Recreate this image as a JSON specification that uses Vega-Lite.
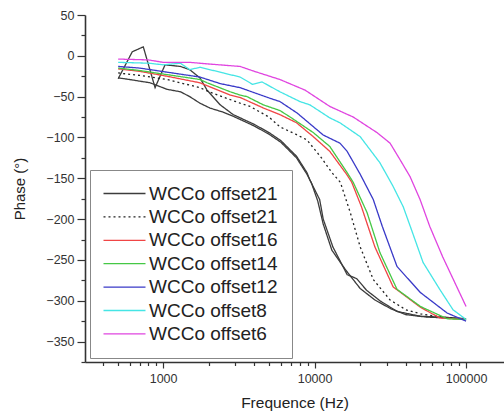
{
  "$schema": "https://vega.github.io/schema/vega-lite/v6.json",
  "width": 419,
  "height": 347,
  "autosize": "none",
  "padding": {"left": 85, "top": 15, "right": 0, "bottom": 52},
  "background": "white",
  "config": {
    "view": {"stroke": null},
    "font": "Liberation Sans",
    "axis": {"grid": false, "domainColor": "#333", "tickColor": "#333", "labelColor": "#333", "titleColor": "#222", "domainWidth": 1.6, "tickWidth": 1.2, "labelFont": "Liberation Sans", "titleFont": "Liberation Sans", "titleFontWeight": "normal"}
  },
  "datasets": {
    "curves": [
      {"s":"21a","f":505,"p":-28},{"s":"21a","f":626,"p":5},{"s":"21a","f":740,"p":11},{"s":"21a","f":885,"p":-39},{"s":"21a","f":1030,"p":-11},{"s":"21a","f":1300,"p":-13},{"s":"21a","f":1500,"p":-17},{"s":"21a","f":1750,"p":-27},{"s":"21a","f":1950,"p":-42},{"s":"21a","f":2380,"p":-60},{"s":"21a","f":2900,"p":-72},{"s":"21a","f":4000,"p":-84},{"s":"21a","f":5000,"p":-94},{"s":"21a","f":6000,"p":-104},{"s":"21a","f":7600,"p":-123},{"s":"21a","f":8900,"p":-143},{"s":"21a","f":9300,"p":-152},{"s":"21a","f":10800,"p":-176},{"s":"21a","f":11400,"p":-200},{"s":"21a","f":13200,"p":-234},{"s":"21a","f":16400,"p":-268},{"s":"21a","f":19000,"p":-273},{"s":"21a","f":22000,"p":-287},{"s":"21a","f":27000,"p":-300},{"s":"21a","f":35000,"p":-313},{"s":"21a","f":50000,"p":-319},{"s":"21a","f":70000,"p":-320},{"s":"21a","f":100000,"p":-322},
      {"s":"21c","f":505,"p":-27},{"s":"21c","f":600,"p":-29},{"s":"21c","f":700,"p":-31},{"s":"21c","f":820,"p":-33},{"s":"21c","f":1060,"p":-41},{"s":"21c","f":1300,"p":-44},{"s":"21c","f":1500,"p":-50},{"s":"21c","f":1750,"p":-58},{"s":"21c","f":2040,"p":-64},{"s":"21c","f":2490,"p":-69},{"s":"21c","f":2900,"p":-74},{"s":"21c","f":4000,"p":-86},{"s":"21c","f":5000,"p":-96},{"s":"21c","f":6000,"p":-106},{"s":"21c","f":7600,"p":-125},{"s":"21c","f":8900,"p":-145},{"s":"21c","f":9500,"p":-155},{"s":"21c","f":10500,"p":-178},{"s":"21c","f":11400,"p":-206},{"s":"21c","f":13000,"p":-238},{"s":"21c","f":16000,"p":-262},{"s":"21c","f":20000,"p":-285},{"s":"21c","f":25000,"p":-299},{"s":"21c","f":32000,"p":-310},{"s":"21c","f":40000,"p":-317},{"s":"21c","f":55000,"p":-320},{"s":"21c","f":100000,"p":-322},
      {"s":"21b","f":505,"p":-21},{"s":"21b","f":700,"p":-24},{"s":"21b","f":1060,"p":-29},{"s":"21b","f":1750,"p":-39},{"s":"21b","f":2000,"p":-44},{"s":"21b","f":3220,"p":-58},{"s":"21b","f":3750,"p":-62},{"s":"21b","f":5000,"p":-75},{"s":"21b","f":5900,"p":-87},{"s":"21b","f":7500,"p":-96},{"s":"21b","f":8900,"p":-103},{"s":"21b","f":11000,"p":-124},{"s":"21b","f":13000,"p":-143},{"s":"21b","f":14800,"p":-155},{"s":"21b","f":17200,"p":-192},{"s":"21b","f":20000,"p":-234},{"s":"21b","f":24400,"p":-274},{"s":"21b","f":31500,"p":-299},{"s":"21b","f":40000,"p":-311},{"s":"21b","f":50000,"p":-316},{"s":"21b","f":70000,"p":-320},{"s":"21b","f":100000,"p":-323},
      {"s":"16","f":505,"p":-16},{"s":"16","f":700,"p":-19},{"s":"16","f":1060,"p":-25},{"s":"16","f":1750,"p":-33},{"s":"16","f":2770,"p":-48},{"s":"16","f":3220,"p":-51},{"s":"16","f":3600,"p":-55},{"s":"16","f":4600,"p":-64},{"s":"16","f":5900,"p":-72},{"s":"16","f":7600,"p":-82},{"s":"16","f":9800,"p":-99},{"s":"16","f":12600,"p":-117},{"s":"16","f":16400,"p":-146},{"s":"16","f":17600,"p":-155},{"s":"16","f":20400,"p":-185},{"s":"16","f":25000,"p":-234},{"s":"16","f":33000,"p":-283},{"s":"16","f":50000,"p":-308},{"s":"16","f":67000,"p":-321},{"s":"16","f":100000,"p":-323},
      {"s":"14","f":505,"p":-15},{"s":"14","f":700,"p":-18},{"s":"14","f":1060,"p":-23},{"s":"14","f":1750,"p":-29},{"s":"14","f":1950,"p":-33},{"s":"14","f":2770,"p":-44},{"s":"14","f":3220,"p":-48},{"s":"14","f":3580,"p":-50},{"s":"14","f":4580,"p":-60},{"s":"14","f":5900,"p":-67},{"s":"14","f":6900,"p":-75},{"s":"14","f":9800,"p":-94},{"s":"14","f":12600,"p":-111},{"s":"14","f":16400,"p":-143},{"s":"14","f":18000,"p":-155},{"s":"14","f":22200,"p":-192},{"s":"14","f":27000,"p":-241},{"s":"14","f":35000,"p":-286},{"s":"14","f":50000,"p":-307},{"s":"14","f":75000,"p":-322},{"s":"14","f":100000,"p":-323},
      {"s":"12","f":505,"p":-13},{"s":"12","f":700,"p":-15},{"s":"12","f":1060,"p":-20},{"s":"12","f":1750,"p":-26},{"s":"12","f":2380,"p":-34},{"s":"12","f":3220,"p":-39},{"s":"12","f":5080,"p":-52},{"s":"12","f":5900,"p":-56},{"s":"12","f":7660,"p":-70},{"s":"12","f":11400,"p":-97},{"s":"12","f":14700,"p":-107},{"s":"12","f":16400,"p":-117},{"s":"12","f":20000,"p":-145},{"s":"12","f":24400,"p":-176},{"s":"12","f":28000,"p":-209},{"s":"12","f":35000,"p":-258},{"s":"12","f":50000,"p":-290},{"s":"12","f":75000,"p":-315},{"s":"12","f":100000,"p":-325},
      {"s":"8","f":505,"p":-8},{"s":"8","f":800,"p":-9},{"s":"8","f":1000,"p":-11},{"s":"8","f":1300,"p":-9},{"s":"8","f":1500,"p":-17},{"s":"8","f":1750,"p":-14},{"s":"8","f":2500,"p":-21},{"s":"8","f":3220,"p":-26},{"s":"8","f":3900,"p":-35},{"s":"8","f":4500,"p":-32},{"s":"8","f":5900,"p":-44},{"s":"8","f":8000,"p":-56},{"s":"8","f":9300,"p":-60},{"s":"8","f":12600,"p":-76},{"s":"8","f":14700,"p":-82},{"s":"8","f":20000,"p":-99},{"s":"8","f":27000,"p":-131},{"s":"8","f":33000,"p":-160},{"s":"8","f":38500,"p":-185},{"s":"8","f":44000,"p":-215},{"s":"8","f":52000,"p":-253},{"s":"8","f":67000,"p":-286},{"s":"8","f":82000,"p":-311},{"s":"8","f":100000,"p":-323},
      {"s":"6","f":505,"p":-4},{"s":"6","f":800,"p":-5},{"s":"6","f":1000,"p":-8},{"s":"6","f":1500,"p":-8},{"s":"6","f":2000,"p":-10},{"s":"6","f":3220,"p":-13},{"s":"6","f":4000,"p":-19},{"s":"6","f":5900,"p":-29},{"s":"6","f":8650,"p":-42},{"s":"6","f":12600,"p":-62},{"s":"6","f":18000,"p":-75},{"s":"6","f":25800,"p":-94},{"s":"6","f":31500,"p":-107},{"s":"6","f":36600,"p":-127},{"s":"6","f":42700,"p":-148},{"s":"6","f":49700,"p":-176},{"s":"6","f":57600,"p":-209},{"s":"6","f":70000,"p":-246},{"s":"6","f":100000,"p":-307}
    ]
  },
  "data": {"name": "curves"},
  "layer": [
    {
      "mark": {"type": "line", "strokeWidth": 1.3},
      "encoding": {
        "x": {"field": "f", "type": "quantitative",
          "scale": {"type": "log", "domain": [305, 178000], "nice": false, "zero": false},
          "axis": {"orient": "bottom", "values": [1000, 10000, 100000], "format": "d", "tickSize": 6, "labelFontSize": 12.5, "labelPadding": 4, "title": "Frequence (Hz)", "titleFontSize": 15.5, "titlePadding": 11}},
        "y": {"field": "p", "type": "quantitative",
          "scale": {"domain": [-375, 50], "nice": false, "zero": false},
          "axis": {"orient": "left", "values": [50, 0, -50, -100, -150, -200, -250, -300, -350], "tickSize": 8, "labelFontSize": 12.5, "labelPadding": 3, "title": "Phase (°)", "titleFontSize": 15, "titlePadding": 18}},
        "color": {"field": "s", "type": "nominal",
          "scale": {"domain": ["21a", "21b", "16", "14", "12", "8", "6", "21c"], "range": ["#3c3c3c", "#222222", "#f04545", "#45c845", "#3a3ac8", "#45e5e5", "#e045e0", "#3c3c3c"]},
          "legend": {"values": ["21a", "21b", "16", "14", "12", "8", "6"], "orient": "none", "legendX": 5, "legendY": 155, "title": null, "padding": 14, "strokeColor": "#888", "fillColor": "white", "labelFontSize": 19, "labelFont": "Liberation Sans", "labelColor": "#222", "symbolType": "M-4.2,0H4.2", "symbolSize": 100, "symbolStrokeWidth": 1.3, "symbolFillColor": "transparent", "symbolOffset": 11, "labelOffset": 15, "rowPadding": 3.4,
            "labelExpr": "'WCCo offset' + slice(datum.label, 0, 2)"}},
        "strokeDash": {"field": "s", "type": "nominal",
          "scale": {"domain": ["21a", "21b", "16", "14", "12", "8", "6", "21c"], "range": [[1, 0], [2, 3], [1, 0], [1, 0], [1, 0], [1, 0], [1, 0], [1, 0]]},
          "legend": {"values": ["21a", "21b", "16", "14", "12", "8", "6"]}}
      }
    },
    {
      "mark": {"type": "line", "opacity": 0},
      "encoding": {
        "x": {"field": "f", "type": "quantitative",
          "axis": {"orient": "bottom", "values": [400, 500, 600, 700, 800, 900, 2000, 3000, 4000, 5000, 6000, 7000, 8000, 9000, 20000, 30000, 40000, 50000, 60000, 70000, 80000, 90000], "labels": false, "domain": false, "tickSize": 3.5, "title": null}},
        "y": {"field": "p", "type": "quantitative",
          "axis": {"orient": "left", "values": [25, -25, -75, -125, -175, -225, -275, -325, -375], "labels": false, "domain": false, "tickSize": 4, "title": null}},
        "detail": {"field": "s"}
      }
    }
  ],
  "resolve": {"axis": {"x": "independent", "y": "independent"}}
}
